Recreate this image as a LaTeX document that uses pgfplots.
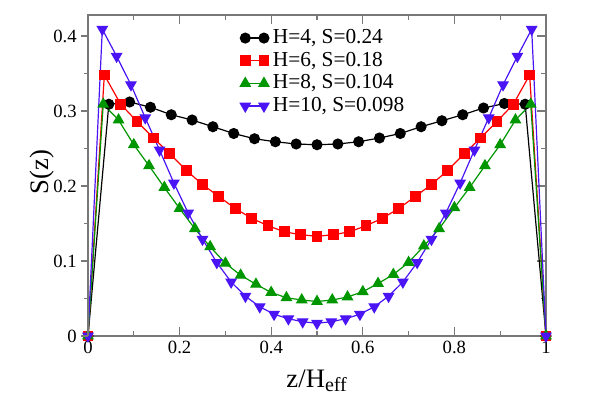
\documentclass[border=0pt]{standalone}
\usepackage{pgfplots}
\pgfplotsset{compat=1.18}
\usepackage{fontspec}
\setmainfont{Liberation Serif}
\definecolor{myred}{RGB}{255,0,0}
\definecolor{mygreen}{RGB}{0,150,0}
\definecolor{myblue}{RGB}{75,20,245}
\definecolor{framegray}{RGB}{120,120,120}
\begin{document}
\begin{tikzpicture}
\path[use as bounding box] (-66pt,-47.25pt) rectangle (384pt,252pt);
\begin{axis}[
  at={(0,0)}, anchor=south west, scale only axis,
  width=343.5pt, height=240.75pt,
  xmin=0, xmax=1, ymin=0, ymax=0.428,
  xtick={0,0.2,0.4,0.6,0.8,1},
  minor xtick={0.1,0.3,0.5,0.7,0.9},
  ytick={0,0.1,0.2,0.3,0.4},
  minor ytick={0.05,0.15,0.25,0.35},
  ytick pos=right, yticklabels={},
  tick align=inside,
  major tick length=6.75pt, minor tick length=3.4pt,
  axis line style={framegray, line width=0.8pt},
  every tick/.style={framegray, line width=0.8pt},
  /pgf/number format/assume math mode=true,
  tick label style={font=\fontsize{14}{16}\selectfont},
  xlabel={z/H$_{\mbox{\fontsize{15}{18}\selectfont eff}}$},
  xlabel style={at={(axis description cs:0.5,-0.16)}, anchor=base, font=\fontsize{20}{24}\selectfont},
  ylabel={S(z)},
  ylabel style={at={(axis description cs:-0.1,0.51)}, anchor=center, font=\fontsize{20}{24}\selectfont},
  clip=false,
  legend style={at={(0.332,0.958)}, anchor=north west, draw=none, fill=none, inner sep=0pt,
    font=\fontsize{16}{18}\selectfont, nodes={inner sep=0pt, text height=11pt, text depth=3pt},
    row sep=3pt, column sep=3pt},
  legend cell align=left,
  legend image code/.code={\draw[#1] plot coordinates {(0pt,0pt) (14pt,0pt)};},
  every axis plot/.append style={line width=0.9pt},
]
\addplot[black, mark=*, mark size=3.7pt, mark options={solid}] coordinates {
(0,0) (0.0455,0.309) (0.0909,0.312) (0.1364,0.305) (0.1818,0.295) (0.2273,0.288) (0.2727,0.279) (0.3182,0.270) (0.3636,0.263) (0.4091,0.259) (0.4545,0.256) (0.5,0.255) (0.5455,0.256) (0.5909,0.259) (0.6364,0.264) (0.6818,0.270) (0.7273,0.279) (0.7727,0.287) (0.8182,0.295) (0.8636,0.304) (0.9091,0.310) (0.9545,0.309) (1,0)
};
\addlegendentry{H=4, S=0.24}
\addplot[myred, mark=square*, mark size=3.6pt, mark options={solid}] coordinates {
(0,0) (0.0357,0.348) (0.0714,0.309) (0.1071,0.286) (0.1429,0.264) (0.1786,0.243) (0.2143,0.221) (0.25,0.202) (0.2857,0.186) (0.3214,0.170) (0.3571,0.157) (0.3929,0.147) (0.4286,0.139) (0.4643,0.135) (0.5,0.133) (0.5357,0.135) (0.5714,0.139) (0.6071,0.147) (0.6429,0.157) (0.6786,0.170) (0.7143,0.186) (0.75,0.202) (0.7857,0.221) (0.8214,0.243) (0.8571,0.264) (0.8929,0.286) (0.9286,0.309) (0.9643,0.348) (1,0)
};
\addlegendentry{H=6, S=0.18}
\addplot[mygreen, mark=triangle*, mark size=4.3pt, mark options={solid}] coordinates {
(0,0) (0.0333,0.309) (0.0667,0.288) (0.1,0.255) (0.1333,0.227) (0.1667,0.198) (0.2,0.170) (0.2333,0.143) (0.2667,0.119) (0.3,0.097) (0.3333,0.081) (0.3667,0.069) (0.4,0.058) (0.4333,0.051) (0.4667,0.048) (0.5,0.046) (0.5333,0.048) (0.5667,0.052) (0.6,0.059) (0.6333,0.070) (0.6667,0.082) (0.7,0.098) (0.7333,0.120) (0.7667,0.143) (0.8,0.171) (0.8333,0.198) (0.8667,0.227) (0.9,0.255) (0.9333,0.288) (0.9667,0.309) (1,0)
};
\addlegendentry{H=8, S=0.104}
\addplot[myblue, mark=triangle*, mark size=4.3pt, mark options={solid, rotate=180}] coordinates {
(0,0) (0.03125,0.409) (0.0625,0.373) (0.09375,0.335) (0.125,0.291) (0.15625,0.248) (0.1875,0.204) (0.21875,0.164) (0.25,0.129) (0.28125,0.098) (0.3125,0.072) (0.34375,0.053) (0.375,0.039) (0.40625,0.029) (0.4375,0.023) (0.46875,0.019) (0.5,0.017) (0.53125,0.019) (0.5625,0.023) (0.59375,0.029) (0.625,0.039) (0.65625,0.053) (0.6875,0.072) (0.71875,0.098) (0.75,0.129) (0.78125,0.164) (0.8125,0.204) (0.84375,0.248) (0.875,0.291) (0.90625,0.335) (0.9375,0.373) (0.96875,0.409) (1,0)
};
\addlegendentry{H=10, S=0.098}
\end{axis}
\begin{axis}[
  at={(0,0)}, anchor=south west, scale only axis,
  width=343.5pt, height=240.75pt,
  xmin=0, xmax=1, ymin=0, ymax=0.428,
  hide x axis, axis y line*=left,
  ytick={0,0.1,0.2,0.3,0.4},
  minor ytick={0.05,0.15,0.25,0.35},
  tick align=outside,
  major tick length=5pt, minor tick length=3pt,
  axis line style={framegray, line width=0.8pt},
  every tick/.style={framegray, line width=0.8pt},
  /pgf/number format/assume math mode=true,
  tick label style={font=\fontsize{14}{16}\selectfont},
]
\end{axis}
\end{tikzpicture}
\end{document}
